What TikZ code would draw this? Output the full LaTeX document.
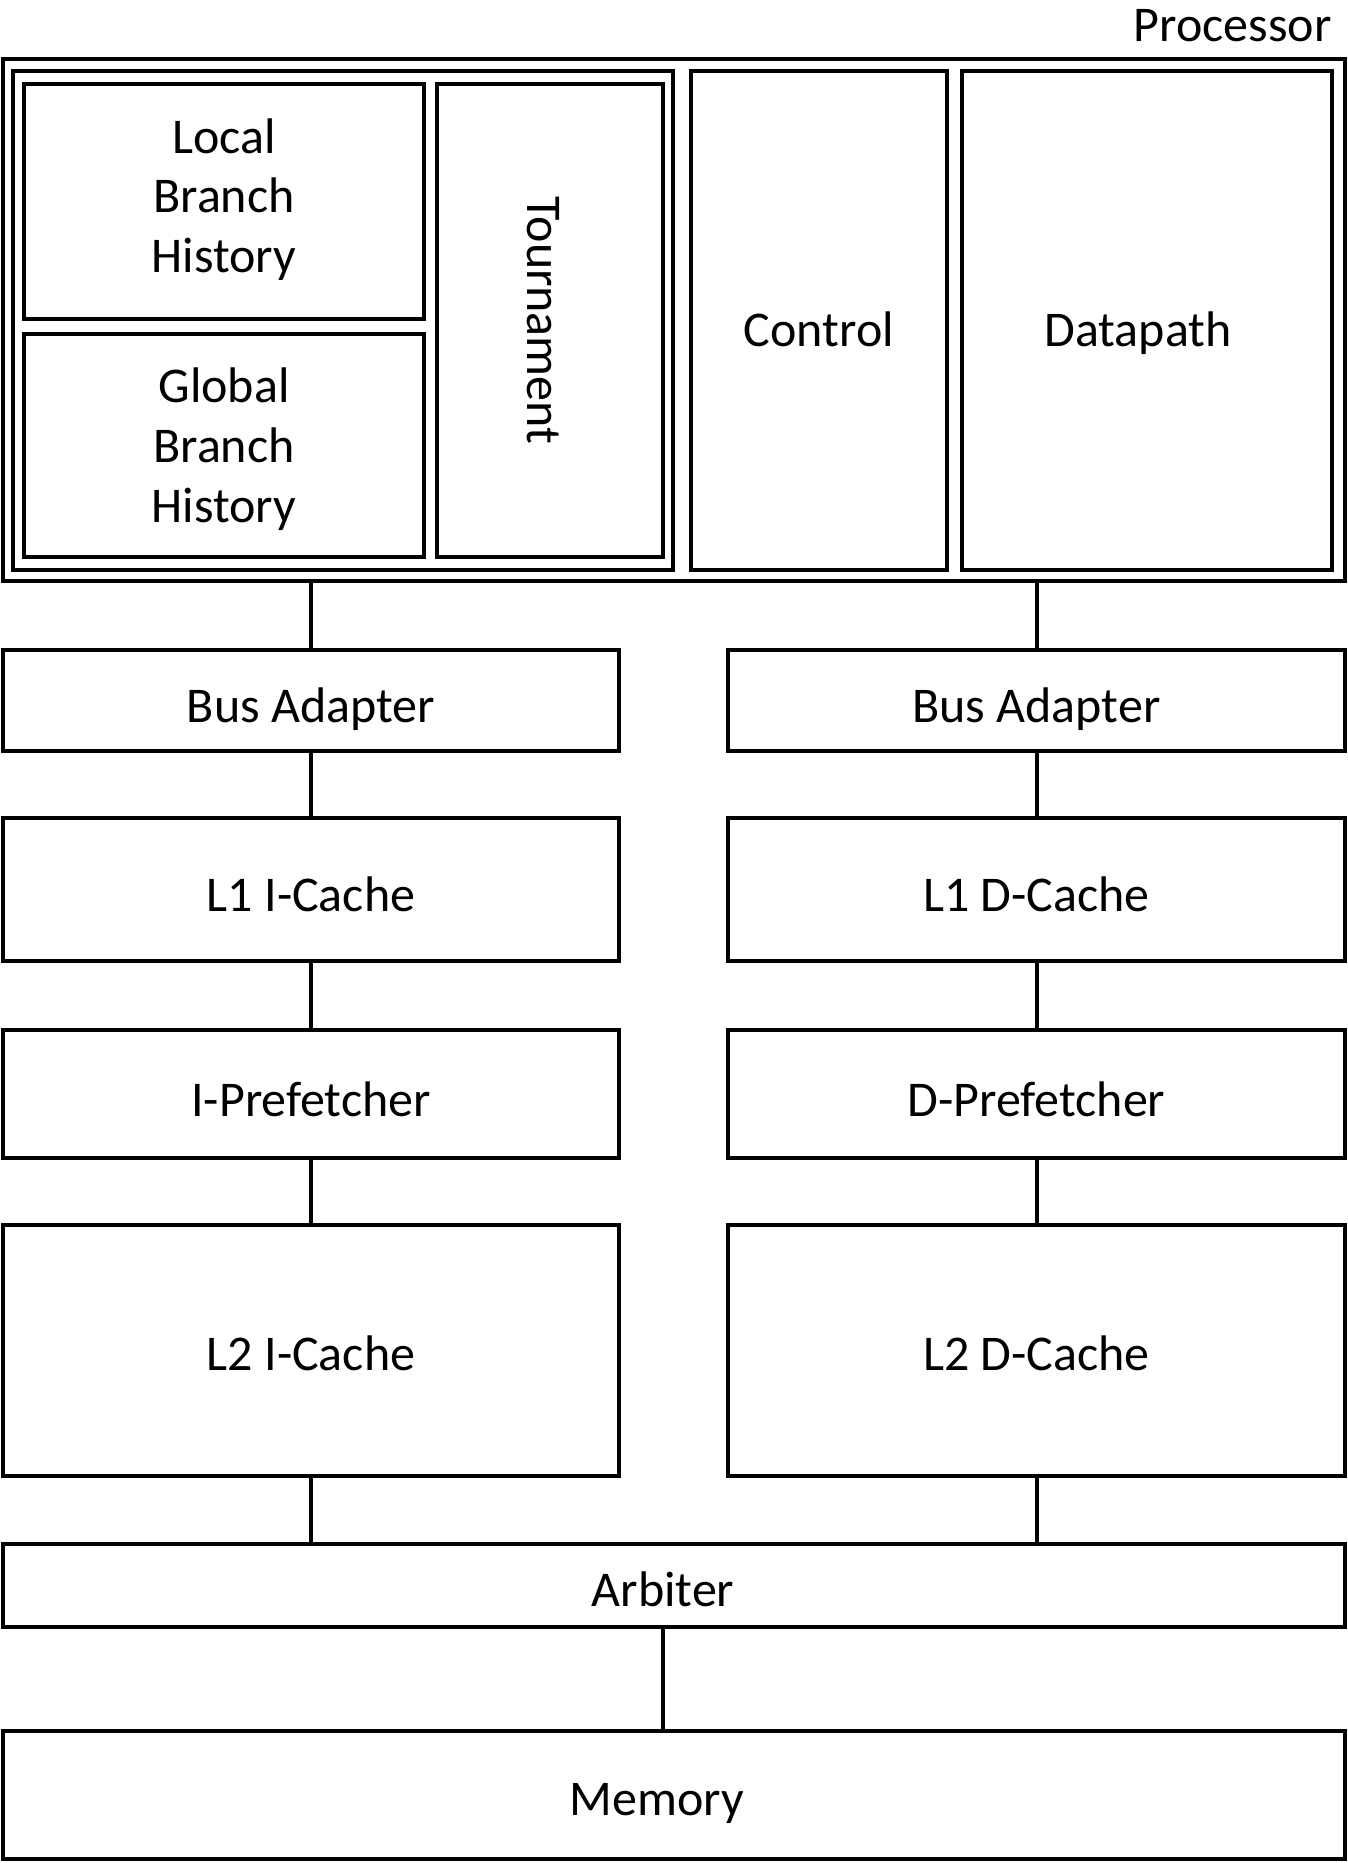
\documentclass[tikz,border=0pt]{standalone}
\usepackage{fontspec}
\setmainfont{Carlito}
\usetikzlibrary{fit}
\begin{document}
\begin{tikzpicture}[x=0.5pt,y=-0.5pt,
  box/.style={draw, line width=2pt, inner sep=0pt, outer sep=0pt, rectangle},
  wire/.style={line width=2pt},
  lbl/.style={anchor=base, inner sep=0pt, font=\fontsize{25}{30}\selectfont}]
\useasboundingbox (0,0) rectangle (1348,1863);
% processor
\node[box, fit={(3,59)(1345,581)}] (proc) {};
\node[lbl, anchor=base east] (tproc) at ([xshift=-6.5pt,yshift=8.75pt]proc.north east) {Processor};
\node[box, fit={(13,71)(673,570)}] (bp) {};
\node[box, fit={(24,84)(424,319)}] (lbh) {};
\node[lbl] (tlbh1) at ([yshift=24.25pt]lbh.center) {Local};
\node[lbl] (tlbh2) at ([yshift=-5.5pt]lbh.center) {Branch};
\node[lbl] (tlbh3) at ([yshift=-35.25pt]lbh.center) {History};
\node[box, fit={(24,334)(424,557)}] (gbh) {};
\node[lbl] (tgbh1) at ([yshift=21.45pt]gbh.center) {Global};
\node[lbl] (tgbh2) at ([yshift=-8.4pt]gbh.center) {Branch};
\node[lbl] (tgbh3) at ([yshift=-38.45pt]gbh.center) {History};
\node[box, fit={(437,84)(663,557)}] (tour) {};
\node[lbl, rotate=-90] (ttour) at ([xshift=-11.15pt]tour.center) {Tournament};
\node[box, fit={(691,71)(947,570)}] (ctrl) {};
\node[lbl] (tctrl) at ([yshift=-12.9pt]ctrl.center) {Control};
\node[box, fit={(962,71)(1332,570)}] (dp) {};
\node[lbl] (tdp) at ([xshift=-4.5pt,yshift=-12.9pt]dp.center) {Datapath};
% left column
\node[box, fit={(3,650)(619,750.6)}] (busl) {};
\node[lbl] (tbusl) at ([yshift=-11pt]busl.center) {Bus Adapter};
\node[box, fit={(3,818)(619,961)}] (l1i) {};
\node[lbl] (tl1i) at ([yshift=-11.1pt]l1i.center) {L1 I-Cache};
\node[box, fit={(3,1030)(619,1158)}] (pfi) {};
\node[lbl] (tpfi) at ([yshift=-11pt]pfi.center) {I-Prefetcher};
\node[box, fit={(3,1224.5)(619,1476)}] (l2i) {};
\node[lbl] (tl2i) at ([yshift=-9.9pt]l2i.center) {L2 I-Cache};
% right column
\node[box, fit={(728,650)(1345,750.6)}] (busr) {};
\node[lbl] (tbusr) at ([yshift=-11pt]busr.center) {Bus Adapter};
\node[box, fit={(728,818)(1345,961)}] (l1d) {};
\node[lbl] (tl1d) at ([yshift=-11.1pt]l1d.center) {L1 D-Cache};
\node[box, fit={(728,1030)(1345,1158)}] (pfd) {};
\node[lbl] (tpfd) at ([yshift=-11pt]pfd.center) {D-Prefetcher};
\node[box, fit={(728,1224.5)(1345,1476)}] (l2d) {};
\node[lbl] (tl2d) at ([yshift=-9.9pt]l2d.center) {L2 D-Cache};
% bottom
\node[box, fit={(3,1544)(1345,1627)}] (arb) {};
\node[lbl] (tarb) at ([xshift=-5.5pt,yshift=-10.25pt]arb.center) {Arbiter};
\node[box, fit={(3,1730.5)(1345,1859)}] (mem) {};
\node[lbl] (tmem) at ([xshift=-8.5pt,yshift=-10.6pt]mem.center) {Memory};
% connectors
\draw[wire] (busl.north |- proc.south) -- (busl.north);
\draw[wire] (busr.north |- proc.south) -- (busr.north);
\draw[wire] (busl.south) -- (l1i.north);
\draw[wire] (busr.south) -- (l1d.north);
\draw[wire] (l1i.south) -- (pfi.north);
\draw[wire] (l1d.south) -- (pfd.north);
\draw[wire] (pfi.south) -- (l2i.north);
\draw[wire] (pfd.south) -- (l2d.north);
\draw[wire] (l2i.south) -- (l2i.south |- arb.north);
\draw[wire] (l2d.south) -- (l2d.south |- arb.north);
\draw[wire] ([xshift=-5.5pt]arb.south) -- ([xshift=-5.5pt]arb.south |- mem.north);
\end{tikzpicture}
\end{document}
